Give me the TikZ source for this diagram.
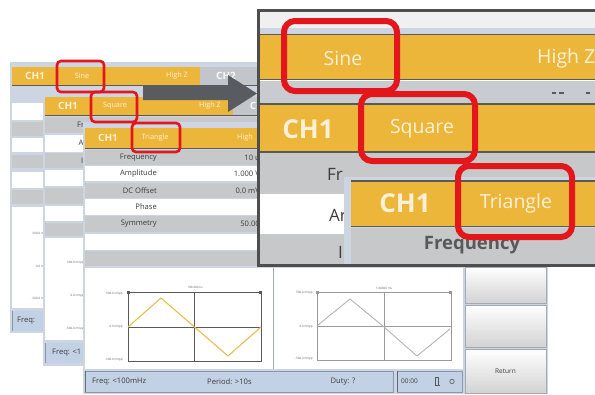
\documentclass[tikz,border=0pt]{standalone}
\usepackage{fontspec}
\setmainfont{Open Sans}
\definecolor{orangeh}{HTML}{ECB63B}
\definecolor{hdrtxt}{HTML}{FCF1D6}
\definecolor{rowgray}{HTML}{C6C8CA}
\definecolor{frame}{HTML}{CCD5E1}
\definecolor{tabgray}{HTML}{C2C6CC}
\definecolor{statusb}{HTML}{C3D1E4}
\definecolor{statusd}{HTML}{8797AD}
\definecolor{darkline}{HTML}{5A5A5A}
\definecolor{panelb}{HTML}{4E4E4E}
\definecolor{redbox}{HTML}{E3161C}
\definecolor{arrowg}{HTML}{585C61}
\definecolor{txtdark}{HTML}{3C3C3C}
\definecolor{plotor}{HTML}{E9BC55}
\definecolor{plotgr}{HTML}{B4B4B4}
\begin{document}
\begin{tikzpicture}[x=1pt,y=-1pt,
  hdr/.style={inner sep=0pt, text=hdrtxt, font=\fontsize{7.3}{8}\selectfont},
  chone/.style={inner sep=0pt, text=hdrtxt, font=\bfseries\fontsize{10}{11}\selectfont},
  rowtxt/.style={inner sep=0pt, text=txtdark, font=\fontsize{7.6}{8.5}\selectfont},
  axl/.style={inner sep=0pt, text=txtdark!80, font=\fontsize{3}{3.5}\selectfont},
  stat/.style={inner sep=0pt, text=txtdark, font=\fontsize{7.6}{8.5}\selectfont},
  bighdr/.style={inner sep=0pt, text=hdrtxt, font=\fontsize{19.5}{21}\selectfont},
  bigch/.style={inner sep=0pt, text=hdrtxt, font=\bfseries\fontsize{26}{28}\selectfont},
  bigrow/.style={inner sep=0pt, text=txtdark, font=\fontsize{17}{19}\selectfont},
  smallred/.style={draw=redbox, line width=2.6pt, rounded corners=4pt},
  bigred/.style={draw=redbox, line width=6pt, rounded corners=11pt},
  hline/.style={draw=darkline, line width=0.8pt},
  btn/.style={top color=white, bottom color=gray!35, draw=frame!80!black, line width=0.5pt},
  plotframe/.style={draw=darkline, line width=0.7pt}]
\useasboundingbox (0,0) rectangle (595,394);
\clip (0,0) rectangle (595,394);
\fill[white] (0,0) rectangle (595,394);

% ---------- Window 1 (Sine) ----------
\fill[frame] (10,62) rectangle (258,333);
\fill[orangeh] (12,67) rectangle (200,85);
\fill[tabgray] (200,67) rectangle (258,85);
\draw[hline] (12,85.5) -- (258,85.5);
\fill[white] (12,103) rectangle (258,120);
\fill[rowgray] (12,122) rectangle (258,136);
\fill[white] (12,138) rectangle (258,152);
\fill[rowgray] (12,155) rectangle (258,168);
\fill[white] (12,172) rectangle (258,188);
\fill[rowgray] (12,190) rectangle (258,204);
\fill[white] (12,207) rectangle (258,308);
\fill[statusb] (12,311) rectangle (258,331);
\draw[statusd, line width=1pt] (12.5,311) -- (12.5,331);
\node[chone] (w1ch) at (35,76) {CH1};
\node[hdr] (w1sine) at (82,76) {Sine};
\node[hdr] (w1hz) at (177,76) {High Z};
\node[chone, text=white!95!gray] (w1ch2) at (226,76) {CH2};
\node[axl, anchor=east] (w1a) at (44,233) {500.0 m};
\node[axl, anchor=east] (w1b) at (44,266) {0.0 m};
\node[axl, anchor=east] (w1c) at (44,298) {-500.0 m};
\node[stat, anchor=west] (w1f) at (17,321) {Freq:};

% ---------- Window 2 (Square) ----------
\fill[frame] (43,90) rectangle (258,366);
\fill[orangeh] (45,97) rectangle (233,115);
\fill[tabgray] (233,97) rectangle (258,115);
\draw[hline] (45,115.5) -- (258,115.5);
\fill[rowgray] (45,117) rectangle (258,133);
\fill[white] (45,135) rectangle (258,152);
\fill[rowgray] (45,153) rectangle (258,168);
\fill[white] (45,170) rectangle (258,186);
\fill[rowgray] (45,188) rectangle (258,204);
\fill[white] (45,206) rectangle (258,221);
\fill[rowgray] (45,223) rectangle (258,236);
\fill[white] (45,238) rectangle (258,340);
\fill[statusb] (45,343) rectangle (258,363);
\draw[statusd, line width=1pt] (45.5,343) -- (45.5,363);
\node[chone] (w2ch) at (68,106) {CH1};
\node[hdr] (w2sq) at (115,106) {Square};
\node[hdr] (w2hz) at (210,106) {High Z};
\node[chone, text=white!95!gray] (w2c) at (253,106) {C};
\node[rowtxt, anchor=west] (w2fr) at (77,125) {Fr};
\node[rowtxt, anchor=west] (w2a) at (78.5,143) {A};
\node[rowtxt, anchor=west] (w2i) at (81,161) {I};
\node[axl, anchor=east] (w2la) at (84,263) {500.0 mVpp};
\node[axl, anchor=east] (w2lb) at (84,296) {0.0 mVpp};
\node[axl, anchor=east] (w2lc) at (84,329) {-500.0 mVpp};
\node[stat, anchor=west] (w2f) at (52,353) {Freq: <1};

% ---------- Window 3 (Triangle) ----------
\fill[frame] (83,122) rectangle (548,394);
\fill[orangeh] (85,128) rectangle (548,148);
\draw[hline] (85,148.5) -- (548,148.5);
\fill[rowgray] (85,150) rectangle (548,165);
\fill[white] (85,166) rectangle (548,181);
\fill[rowgray] (85,183) rectangle (548,198);
\fill[white] (85,199) rectangle (548,215);
\fill[rowgray] (85,216) rectangle (548,232);
\fill[white] (85,234) rectangle (548,250);
\fill[rowgray] (85,251) rectangle (548,266);
\fill[white] (85,268) rectangle (463,369);
\draw[frame!80!black, line width=0.6pt] (273,268) -- (273,369);
\node[chone] (w3ch) at (108,138) {CH1};
\node[hdr] (w3tri) at (155,138) {Triangle};
\node[hdr, anchor=west] (w3hz) at (237,138) {High};
\node[rowtxt, anchor=east] (r1) at (157,157.5) {Frequency};
\node[rowtxt, anchor=east] (r2) at (157,173.5) {Amplitude};
\node[rowtxt, anchor=east] (r3) at (157,190.5) {DC Offset};
\node[rowtxt, anchor=east] (r4) at (157,207) {Phase};
\node[rowtxt, anchor=east] (r5) at (157,224) {Symmetry};
\node[rowtxt, anchor=east] (v1) at (260,157.5) {10 u};
\node[rowtxt, anchor=east] (v2) at (260,173.5) {1.000 V};
\node[rowtxt, anchor=east] (v3) at (260,190.5) {0.0 mV};
\node[rowtxt, anchor=east] (v5) at (260,224) {50.00};

% left plot
\draw[plotframe] (128,292) rectangle (261,361);
\draw[plotframe] (194.5,292) -- (194.5,361);
\draw[plotframe] (128,327) -- (261,327);
\fill[darkline] (127,290.5) rectangle (130,293.5);
\fill[darkline] (259,290.5) rectangle (262,293.5);
\draw[plotor, line width=1.1pt, line join=round] (128,327) -- (161,298) -- (194.5,327) -- (228,356) -- (261,327);
\node[axl] (lp0) at (195,287) {100.000 ks};
\node[axl, anchor=east] (lp1) at (123,294) {500.0 mVpp};
\node[axl, anchor=east] (lp2) at (123,327) {0.0 mVpp};
\node[axl, anchor=east] (lp3) at (123,360) {-500.0 mVpp};

% right plot
\draw[plotframe, draw=gray!80] (317,292) rectangle (451,360);
\draw[plotframe, draw=gray!80] (384,292) -- (384,360);
\draw[plotframe, draw=gray!80] (317,326.5) -- (451,326.5);
\fill[gray!80] (316,290.5) rectangle (319,293.5);
\fill[gray!80] (449,290.5) rectangle (452,293.5);
\draw[plotgr, line width=0.9pt, line join=round] (318,325) -- (350,299) -- (384,327) -- (417,356) -- (450,329);
\node[axl] (rp0) at (384,288) {1.00000 ms};
\node[axl, anchor=east] (rp1) at (313,293) {500.0 mVpp};
\node[axl, anchor=east] (rp2) at (313,327) {0.0 mVpp};
\node[axl, anchor=east] (rp3) at (313,359) {-500.0 mVpp};

% buttons
\path[btn] (465,267) rectangle (546,303);
\path[btn] (465,305) rectangle (546,347);
\path[btn] (465,349) rectangle (546,393);
\node[stat, font=\fontsize{6.5}{7}\selectfont] (ret) at (505.5,371) {Return};

% status bar
\fill[statusb] (85,371) rectangle (393,392);
\draw[statusd, line width=0.5pt] (85,371) rectangle (393,392);
\draw[statusd!70!black, line width=1.2pt] (85.6,371) -- (85.6,392);
\fill[statusb] (397,371) rectangle (462,392);
\draw[statusd, line width=0.5pt] (397,371) rectangle (462,392);
\draw[statusd!70!black, line width=1.2pt] (397.6,371) -- (397.6,392);
\node[stat, anchor=west] (sf) at (92,381.5) {Freq: <100mHz};
\node[stat, anchor=west] (sp) at (207,381.5) {Period: >10s};
\node[stat] (sd) at (343,381.5) {Duty: ?};
\node[stat, anchor=west, font=\fontsize{6.5}{7}\selectfont] (st) at (401,381.5) {00:00};
\draw[gray!70!black, line width=0.6pt] (435.5,377.5) rectangle (438.5,385) (434.5,385) -- (440,385);
\draw[gray!70!black, line width=0.6pt] (452,381.5) circle (2.2);

% ---------- small red boxes ----------
\draw[smallred] (57,61) rectangle (104,92);
\draw[smallred] (91,92) rectangle (137,122);
\draw[smallred] (132,123) rectangle (180,152);

% ---------- zoom panel ----------
\begin{scope}
\clip (258,10) rectangle (600,265);
\fill[gray!12] (258,10) rectangle (600,28);
\fill[frame] (258,28) rectangle (600,34);
\fill[orangeh] (258,34) rectangle (600,79);
\draw[darkline, line width=1.8pt] (258,34.5) -- (600,34.5);
\draw[darkline, line width=1.8pt] (258,79.5) -- (600,79.5);
\fill[rowgray!70!frame] (258,80.5) rectangle (600,103);
\draw[darkline, line width=1.2pt] (552,93) -- (556,93) (559,93) -- (564,93) (586,93) -- (590,93);
\fill[orangeh] (258,104) rectangle (600,152);
\draw[darkline, line width=1.8pt] (258,104) -- (600,104);
\draw[darkline, line width=1.8pt] (258,152) -- (600,152);
\fill[rowgray] (258,153) rectangle (600,265);
\fill[white] (258,194) rectangle (345,234);
\node[bigrow, anchor=west] (zfr) at (327,174) {Fr};
\node[bigrow, anchor=west] (zar) at (329,215) {Ar};
\node[bigrow, anchor=west] (zi) at (338,252) {I};
\fill[frame] (344,177) rectangle (600,265);
\fill[orangeh] (351,181) rectangle (600,226);
\draw[darkline, line width=1.8pt] (351,181) -- (600,181);
\draw[darkline, line width=1.8pt] (351,226.5) -- (600,226.5);
\fill[rowgray] (351,228) rectangle (600,265);
\node[bighdr] (zsine) at (343,58) {Sine};
\node[bighdr, anchor=west] (zhz) at (537,58) {High Z};
\node[bigch] (zch1) at (308,129) {CH1};
\node[bighdr] (zsq) at (422,129) {Square};
\node[bigch] (zch2) at (405,203) {CH1};
\node[bighdr] (ztri) at (516,203) {Triangle};
\node[bigrow, font=\bfseries\fontsize{18.5}{20}\selectfont, text=txtdark!85] (zfreq) at (472,245) {Frequency};
\end{scope}
\draw[panelb, line width=3pt] (258,10) rectangle (600,265);

% big red boxes
\draw[bigred] (284,21) rectangle (397,91);
\draw[bigred] (361,94) rectangle (475,161);
\draw[bigred] (458,166) rectangle (572,237);

% ---------- arrow ----------
\coordinate (arrS) at (143,92.5);
\coordinate (arrT) at (257,93.5);
\fill[arrowg] (arrS) ++(0,-7.5) -- (228,85) -- (228,75) -- (arrT) -- (228,112) -- (228,100) -- (143,100) -- cycle;
\end{tikzpicture}
\end{document}
